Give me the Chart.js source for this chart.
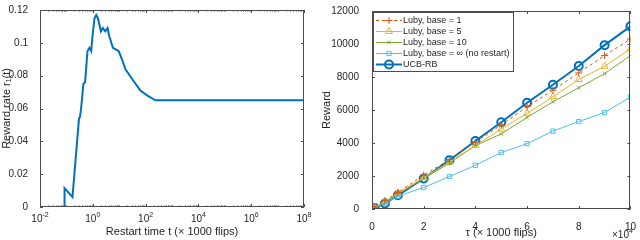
<!DOCTYPE html>
<html>
<head>
<meta charset="utf-8">
<script src="https://cdn.jsdelivr.net/npm/chart.js@4/dist/chart.umd.min.js"></script>
<style>
  body { margin: 0; background: #fff; }
  #wrap { display: flex; width: 640px; height: 240px; }
  canvas { display: block; }
</style>
</head>
<body>
<div id="wrap">
  <canvas id="rateChart" width="320" height="240"></canvas>
  <canvas id="rewardChart" width="320" height="240"></canvas>
</div>
<script>
const d = document;

//Datos grafico izquierdo (reward rate vs restart time)
const restartT = [0.01, 0.082, 0.085, 0.17, 0.30, 0.33, 0.36, 0.44, 0.51, 0.63, 0.75, 0.87, 0.97, 1.16, 1.35, 1.56, 2.03, 2.42, 2.96, 3.62, 4.2, 5.8, 9.5, 12.8, 17, 31, 63, 114, 236, 1e8];
const rewardRate = [0, 0, 0.0115, 0.006, 0.054, 0.055, 0.060, 0.075, 0.076, 0.095, 0.097, 0.095, 0.104, 0.115, 0.117, 0.115, 0.107, 0.109, 0.107, 0.109, 0.104, 0.097, 0.095, 0.090, 0.084, 0.078, 0.071, 0.068, 0.065, 0.065];
const logTicks = [1e-2, 1e0, 1e2, 1e4, 1e6, 1e8];
const logExps = ['-2', '0', '2', '4', '6', '8'];

//Datos grafico derecho (reward vs tau)
const tau = [1000, 5000, 10000, 20000, 30000, 40000, 50000, 60000, 70000, 80000, 90000, 100000];
const lubyBase1 = [115, 500, 1000, 2050, 3000, 4050, 5100, 6200, 7200, 8250, 9300, 10300];
const lubyBase5 = [100, 450, 950, 1900, 2850, 3850, 4850, 5800, 6800, 7850, 8650, 9700];
const lubyBase10 = [80, 400, 900, 1850, 2780, 3850, 4550, 5550, 6500, 7350, 8200, 9300];
const lubyNoRestart = [60, 350, 780, 1300, 1970, 2650, 3420, 3960, 4720, 5300, 5850, 6780];
const ucbRB = [60, 335, 830, 1850, 2960, 4120, 5260, 6440, 7530, 8670, 9930, 11070];
const seriesNames = ['Luby, base = 1', 'Luby, base = 5', 'Luby, base = 10', 'Luby, base = \u221e (no restart)', 'UCB-RB'];

const FONT = "'Liberation Sans', Arial, sans-serif";
const TXT = '#262626';
const AXC = '#4d4d4d';

//Caja + ticks hacia adentro (estilo matlab)
const boxTicks = {
  id: 'boxTicks',
  afterDatasetsDraw(chart, args, opts) {
    const ctx = chart.ctx, a = chart.chartArea, sx = chart.scales.x, sy = chart.scales.y;
    ctx.save();
    ctx.strokeStyle = AXC;
    ctx.lineWidth = 1;
    ctx.strokeRect(Math.round(a.left) + 0.5, Math.round(a.top) + 0.5, Math.round(a.right - a.left) - 1, Math.round(a.bottom - a.top) - 1);
    ctx.beginPath();
    const tl = 3;
    sx.ticks.forEach(t => {
      const px = Math.round(sx.getPixelForValue(t.value)) + 0.5;
      ctx.moveTo(px, a.bottom); ctx.lineTo(px, a.bottom - tl);
      ctx.moveTo(px, a.top); ctx.lineTo(px, a.top + tl);
    });
    sy.ticks.forEach(t => {
      const py = Math.round(sy.getPixelForValue(t.value)) + 0.5;
      ctx.moveTo(a.left, py); ctx.lineTo(a.left + tl, py);
      ctx.moveTo(a.right, py); ctx.lineTo(a.right - tl, py);
    });
    if (opts.minorLog) {
      for (let e = -2; e < 8; e++) {
        for (let m = 1; m <= 9; m++) {
          if (m === 1 && e % 2 === 0) continue;
          const px = Math.round(sx.getPixelForValue(m * Math.pow(10, e))) + 0.5;
          ctx.moveTo(px, a.bottom); ctx.lineTo(px, a.bottom - 1.5);
          ctx.moveTo(px, a.top); ctx.lineTo(px, a.top + 1.5);
        }
      }
    }
    ctx.stroke();
    ctx.restore();
  }
};

//Etiquetas 10^n del eje log
const logLabels = {
  id: 'logLabels',
  afterDraw(chart) {
    const ctx = chart.ctx, sx = chart.scales.x, a = chart.chartArea;
    ctx.save();
    ctx.fillStyle = TXT;
    ctx.textBaseline = 'alphabetic';
    logTicks.forEach((v, i) => {
      ctx.font = '10px ' + FONT;
      const wb = ctx.measureText('10').width;
      ctx.font = '7px ' + FONT;
      const we = ctx.measureText(logExps[i]).width;
      const x0 = sx.getPixelForValue(v) - (wb + we) / 2;
      ctx.font = '10px ' + FONT;
      ctx.fillText('10', x0, a.bottom + 15);
      ctx.font = '7px ' + FONT;
      ctx.fillText(logExps[i], x0 + wb, a.bottom + 10);
    });
    ctx.restore();
  }
};

//Multiplicador x10^4 y leyenda con caja
const rewardExtras = {
  id: 'rewardExtras',
  afterDraw(chart) {
    const ctx = chart.ctx, a = chart.chartArea;
    ctx.save();
    ctx.fillStyle = TXT;
    ctx.font = '10px ' + FONT;
    const w = ctx.measureText('\u00d710').width;
    ctx.fillText('\u00d710', 292, 238);
    ctx.font = '7px ' + FONT;
    ctx.fillText('4', 292 + w, 233);

    //Leyenda
    const lx = a.left + 1, ly = a.top + 1, lw = 140, lh = 59, rowH = 11.1;
    ctx.fillStyle = '#fff';
    ctx.fillRect(lx, ly, lw, lh);
    ctx.strokeStyle = AXC;
    ctx.lineWidth = 1;
    ctx.strokeRect(lx + 0.5, ly + 0.5, lw, lh);
    chart.data.datasets.forEach((ds, i) => {
      const cy = Math.round(ly + 8 + i * rowH) + 0.5;
      ctx.save();
      ctx.strokeStyle = ds.borderColor;
      ctx.lineWidth = ds.borderWidth;
      ctx.setLineDash(ds.borderDash || []);
      ctx.beginPath();
      ctx.moveTo(lx + 3, cy); ctx.lineTo(lx + 29, cy);
      ctx.stroke();
      ctx.restore();
      ctx.save();
      ctx.strokeStyle = ds.borderColor;
      ctx.fillStyle = 'rgba(0,0,0,0)';
      ctx.lineWidth = ds.pointBorderWidth;
      Chart.helpers.drawPoint(ctx, {
        pointStyle: ds.pointStyle, radius: ds.pointRadius, rotation: 0, borderWidth: ds.pointBorderWidth
      }, lx + 16, cy);
      ctx.restore();
      ctx.fillStyle = TXT;
      ctx.font = '9px ' + FONT;
      ctx.textBaseline = 'middle';
      ctx.fillText(ds.label, lx + 30, cy + 0.5);
    });
    ctx.restore();
  }
};

Chart.defaults.font.family = FONT;
Chart.defaults.color = TXT;
Chart.defaults.animation = false;

//Grafico izquierdo
new Chart(d.getElementById('rateChart'), {
  type: 'line',
  data: {
    datasets: [{
      data: restartT.map((t, i) => ({ x: t, y: rewardRate[i] })),
      borderColor: '#0072BD',
      borderWidth: 2,
      pointRadius: 0,
      tension: 0,
      fill: false
    }]
  },
  options: {
    responsive: false,
    layout: { padding: { top: 6, right: 16, left: 0, bottom: 0 } },
    plugins: { legend: { display: false }, tooltip: { enabled: false }, boxTicks: { minorLog: true } },
    scales: {
      x: {
        type: 'logarithmic', min: 1e-2, max: 1e8,
        afterBuildTicks: s => { s.ticks = logTicks.map(v => ({ value: v })); },
        afterFit: s => { s.height = 33; },
        grid: { display: false }, border: { display: false },
        ticks: { display: false },
        title: { display: true, text: 'Restart time t (\u00d7 1000 flips)', font: { size: 11 }, padding: { top: 0, bottom: 1 } }
      },
      y: {
        min: 0, max: 0.12,
        afterFit: s => { s.width = 40; },
        grid: { display: false }, border: { display: false },
        ticks: { stepSize: 0.02, padding: 4, font: { size: 10 }, callback: v => String(parseFloat(v.toFixed(2))) },
        title: { display: true, text: 'Reward rate r\u2081(t)', font: { size: 11 }, padding: { top: 0, bottom: 2 } }
      }
    }
  },
  plugins: [boxTicks, logLabels]
});

//Grafico derecho
const mk = (label, data, color, style, radius, width, dash) => ({
  label, data: tau.map((t, i) => ({ x: t, y: data[i] })),
  borderColor: color, backgroundColor: 'rgba(0,0,0,0)',
  borderWidth: width, borderDash: dash,
  pointStyle: style, pointRadius: radius, pointBorderWidth: width,
  pointBorderColor: color, pointBackgroundColor: 'rgba(0,0,0,0)',
  tension: 0, fill: false
});

new Chart(d.getElementById('rewardChart'), {
  type: 'line',
  data: {
    datasets: [
      mk(seriesNames[0], lubyBase1, '#D95319', 'cross', 3.5, 1, [3, 3]),
      mk(seriesNames[1], lubyBase5, '#EDB120', 'triangle', 4, 1, []),
      mk(seriesNames[2], lubyBase10, '#77AC30', 'crossRot', 2.5, 1, []),
      mk(seriesNames[3], lubyNoRestart, '#4DBEEE', 'rect', 3, 1, []),
      mk(seriesNames[4], ucbRB, '#0072BD', 'circle', 4, 2, [])
    ]
  },
  options: {
    responsive: false,
    layout: { padding: { top: 6, right: 7, left: 0, bottom: 0 } },
    plugins: { legend: { display: false }, tooltip: { enabled: false } },
    scales: {
      x: {
        type: 'linear', min: 0, max: 100000,
        afterFit: s => { s.height = 31; },
        grid: { display: false }, border: { display: false },
        ticks: { stepSize: 20000, padding: 4, font: { size: 10 }, maxRotation: 0, callback: v => String(v / 10000) },
        title: { display: true, text: '\u03c4 (\u00d7 1000 flips)', font: { size: 11 }, padding: { top: 0, bottom: 0 } }
      },
      y: {
        min: 0, max: 12000,
        afterFit: s => { s.width = 52; },
        grid: { display: false }, border: { display: false },
        ticks: { stepSize: 2000, padding: 5, font: { size: 10 }, callback: v => String(v) },
        title: { display: true, text: 'Reward', font: { size: 11 }, padding: { top: 0, bottom: 2 } }
      }
    }
  },
  plugins: [boxTicks, rewardExtras]
});
</script>
</body>
</html>
